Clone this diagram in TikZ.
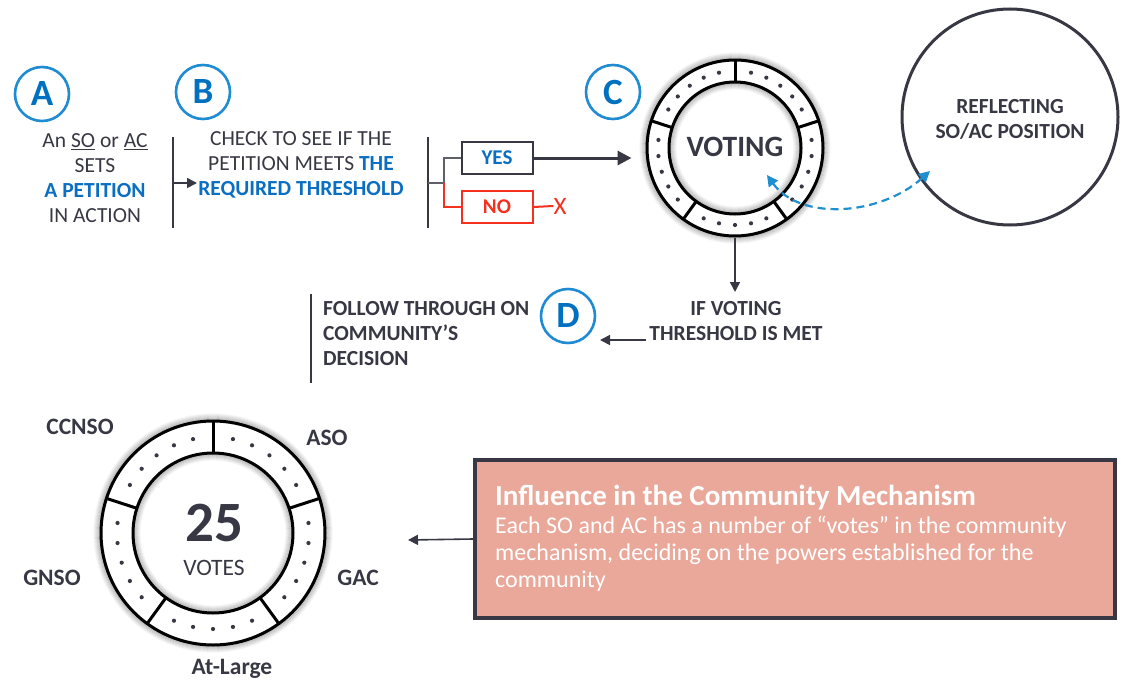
\documentclass[tikz,border=0pt]{standalone}
\usepackage{fontspec}
\setmainfont{Carlito}
\usetikzlibrary{arrows.meta,calc}
\definecolor{dark}{HTML}{383845}
\definecolor{letblue}{HTML}{0070C0}
\definecolor{circblue}{HTML}{1E8BD3}
\definecolor{tblue}{HTML}{0A6FC2}
\definecolor{nored}{HTML}{F5301E}
\definecolor{pinkfill}{HTML}{EAA89A}
\definecolor{dashblue}{HTML}{1F8FD0}
\newcommand\setfs[2]{\fontsize{#1}{#2}\selectfont}
\newcommand\myring[4]{% name, center, outer R, inner r
  \foreach \i in {1,...,7}{
    \draw[black,opacity={0.24*(1-\i/8)},line width=1.3] #2 circle ({#3+\i});
    \draw[black,opacity={0.24*(1-\i/8)},line width=1.3] #2 circle ({#4-\i});
  }
  \node[circle,draw=black,line width=3,minimum size={2*#3},inner sep=0] (#1) at #2 {};
  \node[circle,draw=black,line width=3,minimum size={2*#4},inner sep=0] (#1in) at #2 {};
  \foreach \a in {18,90,162,234,306}{
    \draw[black,line width=3] ($#2+(\a:#4)$) -- ($#2+(\a:#3)$);
    \foreach \k in {1,...,5}{
      \fill[dark] ($#2+({\a+12*\k}:{(#3+#4)/2})$) circle (2.1);
    }
  }
}
\begin{document}
\begin{tikzpicture}[x=1pt,y=1pt,
  letter/.style={circle,draw=circblue,line width=2.6,minimum size=54,inner sep=0,
    text=letblue,font=\bfseries\setfs{37}{37}},
  txt/.style={inner sep=0,align=center,text=dark,font=\setfs{21.5}{25}},
  btxt/.style={inner sep=0,align=center,text=dark,font=\bfseries\setfs{21.5}{25}},
  lbl/.style={inner sep=0,text=dark,font=\bfseries\setfs{23.5}{25}},
  sep/.style={draw=dark,line width=2.6},
  arr/.style={draw=dark,line width=1.6,-{Triangle[length=10,width=10]}},
  bigarr/.style={draw=dark,line width=3,-{Triangle[length=14,width=14]}},
  optbox/.style={draw=#1,line width=2,minimum width=71,minimum height=32,inner sep=0,
    font=\bfseries\setfs{21}{24}},
]
\useasboundingbox (0,0) rectangle (1122,-680);

% step letters
\node[letter] (A) at (42,-94) {A};
\node[letter] (B) at (203,-92) {B};
\node[letter] (C) at (613,-92) {C};
\node[letter] (D) at (568,-316) {D};

% step A text
\node[txt] (atext) at (95,-178) {An \underline{SO} or \underline{AC}\\SETS\\\textcolor{tblue}{\bfseries A PETITION}\\IN ACTION};
% separator 1
\coordinate (s1t) at (173,-137);
\coordinate (s1b) at (173,-228);
\coordinate (s1m) at (173,-183);
\draw[sep] (s1t) -- (s1b);
\coordinate (bin) at (197,-183);
\draw[arr] (s1m) -- (bin);

% step B text
\node[txt] (btext) at (301,-165) {CHECK TO SEE IF THE\\PETITION MEETS \textcolor{tblue}{\bfseries THE}\\\textcolor{tblue}{\bfseries REQUIRED THRESHOLD}};

% separator 2 and branches
\coordinate (s2t) at (428,-137);
\coordinate (s2b) at (428,-228);
\coordinate (s2m) at (428,-183);
\coordinate (br) at (444,-183);
\draw[sep] (s2t) -- (s2b);
\node[optbox=dark,text=tblue] (yes) at (497,-158) {YES};
\node[optbox=nored,text=nored] (no) at (497,-207) {NO};
\draw[dark!80,line width=2] (s2m) -- (br) |- (yes.west);
\draw[nored,line width=2] (br) |- (no.west);
\node[inner sep=0,text=nored,font=\setfs{25}{25}] (x) at (560,-206) {X};
\draw[nored,line width=2] (no.east) -- (x.west);

% voting ring
\myring{vote}{(735,-148)}{88}{66}
\node[inner sep=0,text=dark,font=\bfseries\setfs{29.5}{30}] (votxt) at (735,-147) {VOTING};
\draw[bigarr,shorten >=14] (yes.east) -- (yes.east -| vote.west);

% reflecting
\node[circle,draw=dark,line width=3,minimum size=216,inner sep=0] (refl) at (1010,-117) {};
\node[btxt] (refltxt) at (1010,-119) {REFLECTING\\SO/AC POSITION};
\draw[dashblue,line width=2.2,dash pattern=on 8 off 5,
  {Triangle[length=11,width=11]}-{Triangle[length=11,width=11]}]
  (767,-175) .. controls (800,-221) and (880,-216) .. (930,-171);

% down arrow
\coordinate (vdown) at (735,-292);
\draw[arr] (vote.south) -- (vdown);
\node[btxt] (ifv) at (736,-321) {IF VOTING\\THRESHOLD IS MET};
\coordinate (ifa) at (646,-340);
\coordinate (ifb) at (600,-340);
\draw[arr] (ifa) -- (ifb);

% follow through
\coordinate (s3t) at (311,-294);
\coordinate (s3b) at (311,-383);
\draw[sep,line width=2] (s3t) -- (s3b);
\node[btxt,align=left,anchor=west] (fol) at (323,-334) {FOLLOW THROUGH ON\\COMMUNITY'S\\DECISION};

% votes ring
\myring{votes}{(213,-533)}{112}{80}
\node[inner sep=0,text=dark,font=\bfseries\setfs{57}{57}] (n25) at (214,-523) {25};
\node[inner sep=0,text=dark,font=\setfs{23.5}{25}] (vt) at (214,-568) {VOTES};
\node[lbl] (ccnso) at (80,-427) {CCNSO};
\node[lbl] (aso) at (327,-438) {ASO};
\node[lbl] (gnso) at (52,-578) {GNSO};
\node[lbl] (gac) at (358,-578) {GAC};
\node[lbl] (atl) at (232,-669) {At-Large};

% influence box
\node[draw=dark,line width=4,fill=pinkfill,minimum width=640,minimum height=158,inner sep=0] (infl) at (795,-539) {};
\node[inner sep=0,anchor=west,text=white,font=\bfseries\setfs{29}{30}] (ttl) at (495,-498) {Influence in the Community Mechanism};
\node[inner sep=0,anchor=north west,align=left,text=white,font=\setfs{24}{27}] (body) at (495,-516) {Each SO and AC has a number of “votes” in the community\\mechanism, deciding on the powers established for the\\community};
\coordinate (inflarr) at (408,-540);
\draw[arr] (infl.west) -- (inflarr);
\end{tikzpicture}
\end{document}
